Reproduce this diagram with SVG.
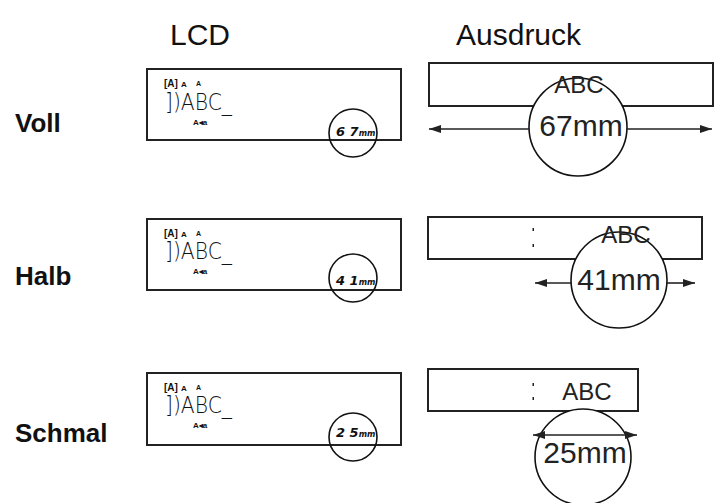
<svg xmlns="http://www.w3.org/2000/svg" width="719" height="503" viewBox="0 0 719 503">
<style>
.hdr{font-family:"Liberation Sans",Arial,sans-serif;font-size:30px;fill:#111}
.row{font-family:"Liberation Sans",Arial,sans-serif;font-size:26px;font-weight:bold;fill:#111}
.box{fill:#fff;stroke:#222;stroke-width:2}
.lcdmain{font-family:"DejaVu Sans","Liberation Sans",sans-serif;font-weight:200;font-size:23px;fill:#111}
.sm{font-family:"Liberation Sans",Arial,sans-serif;font-weight:bold;fill:#111}
.dig{font-family:"DejaVu Sans","Liberation Sans",sans-serif;font-style:italic;font-weight:bold;font-size:13px;fill:#111}
.ring{fill:none;stroke:#111;stroke-width:1.6}
.ringw{fill:#fff;stroke:#111;stroke-width:1.6}
.pt{font-family:"Liberation Sans",Arial,sans-serif;fill:#222;text-anchor:middle}
.dim{stroke:#222;stroke-width:1.6;fill:none}
</style>
<defs>
<marker id="ah" viewBox="0 0 12 8" refX="12" refY="4" markerWidth="12" markerHeight="8" markerUnits="userSpaceOnUse" orient="auto-start-reverse">
<path d="M0,0 L12,4 L0,8 z" fill="#222"/>
</marker>
</defs>
<g id="headers">
<text class="hdr" x="170" y="45">LCD</text>
<text class="hdr" x="456" y="45">Ausdruck</text>
</g>
<g id="labels">
<text class="row" x="15" y="132">Voll</text>
<text class="row" x="15" y="285">Halb</text>
<text class="row" x="15" y="442">Schmal</text>
</g>
<g id="lcd-voll" transform="translate(147,69)">
<rect class="box" x="0" y="0" width="254" height="71"/>
<text class="sm" x="17" y="18" font-size="10">[A]</text>
<text class="sm" x="34" y="18" font-size="8">A</text>
<text class="sm" x="49" y="17" font-size="7">A</text>
<text class="lcdmain" x="18" y="41" textLength="67" lengthAdjust="spacingAndGlyphs">])ABC_</text>
<text class="sm" x="46" y="56" font-size="8">A◂a</text>
<circle class="ring" cx="206" cy="64" r="24"/>
<text class="dig" x="189" y="67">6 7<tspan font-size="8">mm</tspan></text>
</g>
<g id="lcd-halb" transform="translate(147,219)">
<rect class="box" x="0" y="0" width="254" height="71"/>
<text class="sm" x="17" y="18" font-size="10">[A]</text>
<text class="sm" x="34" y="18" font-size="8">A</text>
<text class="sm" x="49" y="17" font-size="7">A</text>
<text class="lcdmain" x="18" y="40" textLength="67" lengthAdjust="spacingAndGlyphs">])ABC_</text>
<text class="sm" x="46" y="55" font-size="8">A◂a</text>
<circle class="ring" cx="206" cy="59" r="24"/>
<text class="dig" x="189" y="66">4 1<tspan font-size="8">mm</tspan></text>
</g>
<g id="lcd-schmal" transform="translate(147,373)">
<rect class="box" x="0" y="0" width="254" height="72"/>
<text class="sm" x="17" y="18" font-size="10">[A]</text>
<text class="sm" x="34" y="18" font-size="8">A</text>
<text class="sm" x="49" y="17" font-size="7">A</text>
<text class="lcdmain" x="18" y="40" textLength="67" lengthAdjust="spacingAndGlyphs">])ABC_</text>
<text class="sm" x="46" y="55" font-size="8">A◂a</text>
<circle class="ring" cx="206" cy="64" r="24"/>
<text class="dig" x="189" y="64">2 5<tspan font-size="8">mm</tspan></text>
</g>
<g id="print-voll">
<rect class="box" x="429" y="63" width="284" height="43"/>
<circle class="ringw" cx="578" cy="127" r="49"/>
<text class="pt" x="579" y="93" font-size="24">ABC</text>
<text class="pt" x="581" y="136" font-size="30">67mm</text>
</g>
<g id="print-halb">
<rect class="box" x="428" y="217" width="274" height="42"/>
<rect x="532.5" y="228" width="1.5" height="3" fill="#222"/>
<rect x="532.5" y="244" width="1.5" height="3" fill="#222"/>
<circle class="ringw" cx="619" cy="280" r="48"/>
<text class="pt" x="626" y="243" font-size="24">ABC</text>
<text class="pt" x="619" y="290" font-size="30">41mm</text>
</g>
<g id="print-schmal">
<rect class="box" x="428" y="369" width="210" height="42"/>
<rect x="532.5" y="383" width="1.5" height="3" fill="#222"/>
<rect x="532.5" y="397" width="1.5" height="3" fill="#222"/>
<circle class="ringw" cx="583" cy="457" r="48"/>
<text class="pt" x="587" y="400" font-size="24">ABC</text>
<text class="pt" x="585" y="463" font-size="30">25mm</text>
</g>
<g id="connectors">
<line class="dim" x1="529" y1="129" x2="429" y2="129" marker-end="url(#ah)"/>
<line class="dim" x1="627" y1="129" x2="712" y2="129" marker-end="url(#ah)"/>
<line class="dim" x1="571" y1="283" x2="535" y2="283" marker-end="url(#ah)"/>
<line class="dim" x1="667" y1="283" x2="695" y2="283" marker-end="url(#ah)"/>
<line class="dim" x1="533" y1="435" x2="637" y2="435" marker-start="url(#ah)" marker-end="url(#ah)"/>
</g>
</svg>
